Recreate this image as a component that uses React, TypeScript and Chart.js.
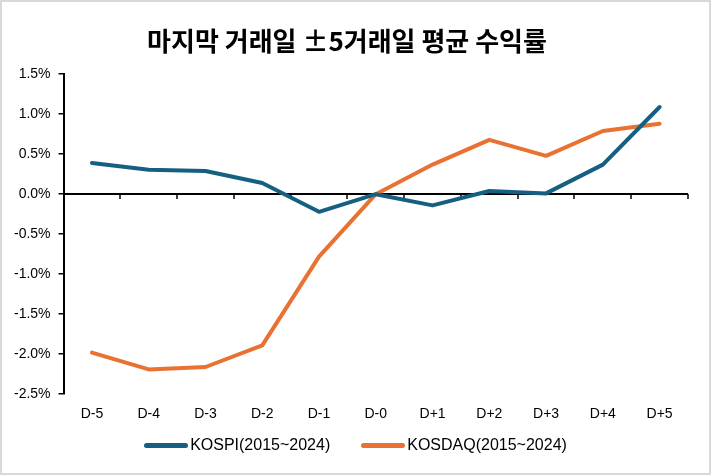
import React, { useEffect, useRef } from "react";
import { Chart, registerables } from "chart.js";

Chart.register(...registerables);

const categories = ["D-5", "D-4", "D-3", "D-2", "D-1", "D-0", "D+1", "D+2", "D+3", "D+4", "D+5"];
const kospi = [0.39, 0.305, 0.29, 0.14, -0.22, 0.0, -0.14, 0.04, 0.01, 0.37, 1.09];
const kosdaq = [-1.98, -2.19, -2.16, -1.89, -0.78, 0.0, 0.37, 0.68, 0.48, 0.79, 0.88];
const titleText = "마지막 거래일 ±5거래일 평균 수익률";
const seriesLabels = ["KOSPI(2015~2024)", "KOSDAQ(2015~2024)"];
const seriesColors = ["#156082", "#E97132"];

const zeroLinePlugin = {
  id: "zeroLine",
  beforeDatasetsDraw(chart: any) {
    const { ctx, chartArea, scales } = chart;
    const y = Math.round(scales.y.getPixelForValue(0));
    const xs = scales.x;
    const step = xs.getPixelForValue(1) - xs.getPixelForValue(0);
    ctx.save();
    ctx.strokeStyle = "#000";
    ctx.lineWidth = 2;
    ctx.beginPath();
    ctx.moveTo(chartArea.left, y);
    ctx.lineTo(chartArea.right, y);
    ctx.stroke();
    ctx.lineWidth = 1.5;
    for (let i = 0; i <= categories.length; i++) {
      const x = Math.round(xs.getPixelForValue(i) - step / 2);
      ctx.beginPath();
      ctx.moveTo(x, y);
      ctx.lineTo(x, y + 5);
      ctx.stroke();
    }
    ctx.restore();
  },
};

const tickFont = { family: "'Liberation Sans', Arial", size: 14 };

export default function App() {
  const ref = useRef<HTMLCanvasElement>(null);
  useEffect(() => {
    document.body.style.margin = "0";
    const chart = new Chart(ref.current!, {
      type: "line",
      data: {
        labels: categories,
        datasets: [
          {
            label: seriesLabels[0],
            data: kospi,
            borderColor: seriesColors[0],
            backgroundColor: seriesColors[0],
            borderWidth: 4,
            pointRadius: 0,
            tension: 0,
            borderCapStyle: "round",
            borderJoinStyle: "round",
          },
          {
            label: seriesLabels[1],
            data: kosdaq,
            borderColor: seriesColors[1],
            backgroundColor: seriesColors[1],
            borderWidth: 4,
            pointRadius: 0,
            tension: 0,
            borderCapStyle: "round",
            borderJoinStyle: "round",
          },
        ],
      },
      options: {
        animation: false,
        responsive: false,
        layout: { padding: { left: 4, right: 21, top: 0, bottom: 38 } },
        plugins: {
          title: {
            display: true,
            text: titleText,
            color: "#000",
            font: { family: "'Noto Sans CJK KR'", size: 26, weight: "bold", lineHeight: 1.2 },
            padding: { top: 24, bottom: 17 },
          },
          legend: { display: false },
          tooltip: { enabled: false },
        },
        scales: {
          x: {
            offset: true,
            grid: { display: false, drawTicks: false },
            border: { display: false },
            ticks: { color: "#000", font: tickFont, padding: 12 },
          },
          y: {
            min: -2.5,
            max: 1.5,
            border: { display: true, color: "#000", width: 2 },
            grid: { drawOnChartArea: false, drawTicks: true, tickLength: 5, color: "#000", lineWidth: 1.5 },
            ticks: {
              stepSize: 0.5,
              color: "#000",
              font: tickFont,
              padding: 8,
              callback: (v: any) => Number(v).toFixed(1) + "%",
            },
          },
        },
      },
      plugins: [zeroLinePlugin],
    });
    return () => chart.destroy();
  }, []);
  return (
    <div
      style={{
        position: "fixed",
        left: 0,
        top: 0,
        width: 711,
        height: 475,
        boxSizing: "border-box",
        border: "2px solid #d9d9d9",
        background: "#fff",
      }}
    >
      <canvas ref={ref} width={707} height={471} style={{ display: "block" }} />
      <div
        style={{
          position: "absolute",
          left: 0,
          right: 0,
          top: 434,
          display: "flex",
          justifyContent: "center",
          gap: 31,
          fontFamily: "'Liberation Sans', Arial, sans-serif",
          fontSize: 16,
          lineHeight: "18px",
          color: "#000",
        }}
      >
        {seriesLabels.map((label, i) => (
          <div key={label} style={{ display: "flex", alignItems: "center" }}>
            <span
              style={{
                display: "inline-block",
                width: 44,
                height: 5,
                borderRadius: 3,
                background: seriesColors[i],
                marginRight: 2,
              }}
            />
            <span>{label}</span>
          </div>
        ))}
      </div>
    </div>
  );
}
